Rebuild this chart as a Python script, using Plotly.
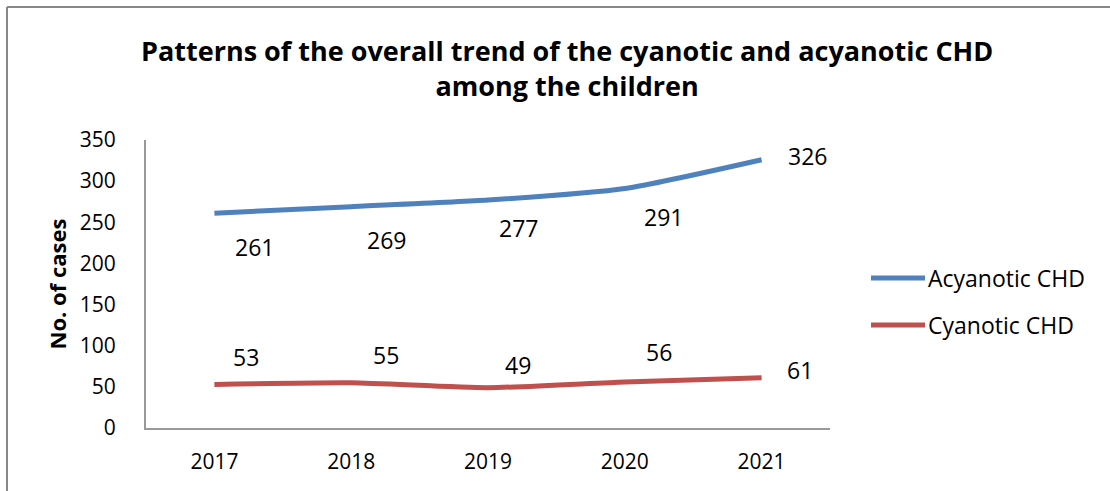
import plotly.graph_objects as go

years = ["2017", "2018", "2019", "2020", "2021"]
acyanotic = [261, 269, 277, 291, 326]
cyanotic = [53, 55, 49, 56, 61]
y_ticks = [0, 50, 100, 150, 200, 250, 300, 350]
series_names = ["Acyanotic CHD", "Cyanotic CHD"]

BLUE = "#4F81BD"
RED = "#C0504D"
FONT = "Open Sans"

W, H = 1110, 491
L, R, T, B = 146, 280, 140, 63
pw = W - L - R
ph = H - T - B


def px_x(px):
    return (px - L) / pw


def px_y(py):
    return (H - B - py) / ph


fig = go.Figure()
fig.add_trace(go.Scatter(x=years, y=acyanotic, mode="lines", name=series_names[0],
                         line=dict(color=BLUE, width=5, shape="spline", smoothing=0.6),
                         showlegend=False))
fig.add_trace(go.Scatter(x=years, y=cyanotic, mode="lines", name=series_names[1],
                         line=dict(color=RED, width=5, shape="spline", smoothing=0.6),
                         showlegend=False))

annotations = []
lab_font = dict(family=FONT, size=23, color="#000")
# label offsets (pixels)
a_off = [(40, -34), (35, -33), (30, -28), (39, -28), (46, 4)]
c_off = [(32, 27), (35, 28), (30, 23), (34, 30), (38, 8)]
for i, yr in enumerate(years):
    annotations.append(dict(xref="x", yref="y", x=i, y=acyanotic[i], text=str(acyanotic[i]),
                            showarrow=False, xshift=a_off[i][0], yshift=a_off[i][1], font=lab_font))
    annotations.append(dict(xref="x", yref="y", x=i, y=cyanotic[i], text=str(cyanotic[i]),
                            showarrow=False, xshift=c_off[i][0], yshift=c_off[i][1], font=lab_font))

annotations.append(dict(xref="paper", yref="paper",
                        x=px_x(567), y=px_y(68),
                        text="<b>Patterns of the overall trend of the cyanotic and acyanotic CHD<br>among the children</b>",
                        showarrow=False, align="center", xanchor="center", yanchor="middle",
                        font=dict(family=FONT, size=27, color="#000")))

shapes = [
    dict(type="line", xref="paper", yref="paper",
         x0=px_x(7), x1=px_x(W + 5), y0=px_y(7), y1=px_y(7),
         line=dict(color="#888888", width=2)),
    dict(type="line", xref="paper", yref="paper",
         x0=px_x(7), x1=px_x(7), y0=px_y(7), y1=px_y(H + 5),
         line=dict(color="#888888", width=2)),
]

# manual legend
for name, col, ly in zip(series_names, [BLUE, RED], [278, 325]):
    shapes.append(dict(type="line", xref="paper", yref="paper",
                       x0=px_x(871), x1=px_x(925), y0=px_y(ly), y1=px_y(ly),
                       line=dict(color=col, width=5)))
    annotations.append(dict(xref="paper", yref="paper", x=px_x(926), y=px_y(ly),
                            text=name, showarrow=False, xanchor="left", yanchor="middle",
                            font=dict(family=FONT, size=23, color="#000")))

fig.update_layout(
    width=W, height=H,
    margin=dict(l=L, r=R, t=T, b=B, autoexpand=False),
    paper_bgcolor="white", plot_bgcolor="white",
    showlegend=False,
    annotations=annotations,
    shapes=shapes,
    xaxis=dict(type="category", showline=True, linecolor="#999999", linewidth=2, showgrid=False,
               ticks="", ticklabelstandoff=14, tickfont=dict(family=FONT, size=21, color="#000"),
               range=[-0.5, 4.5], zeroline=False),
    yaxis=dict(showline=True, linecolor="#999999", linewidth=2, showgrid=False,
               range=[0, 350], tickvals=y_ticks, ticks="", ticklabelstandoff=24,
               tickfont=dict(family=FONT, size=21, color="#000"), zeroline=False,
               title=dict(text="<b>No. of cases</b>", font=dict(family=FONT, size=22, color="#000"),
                          standoff=7)),
)

fig.write_html("out.html")
